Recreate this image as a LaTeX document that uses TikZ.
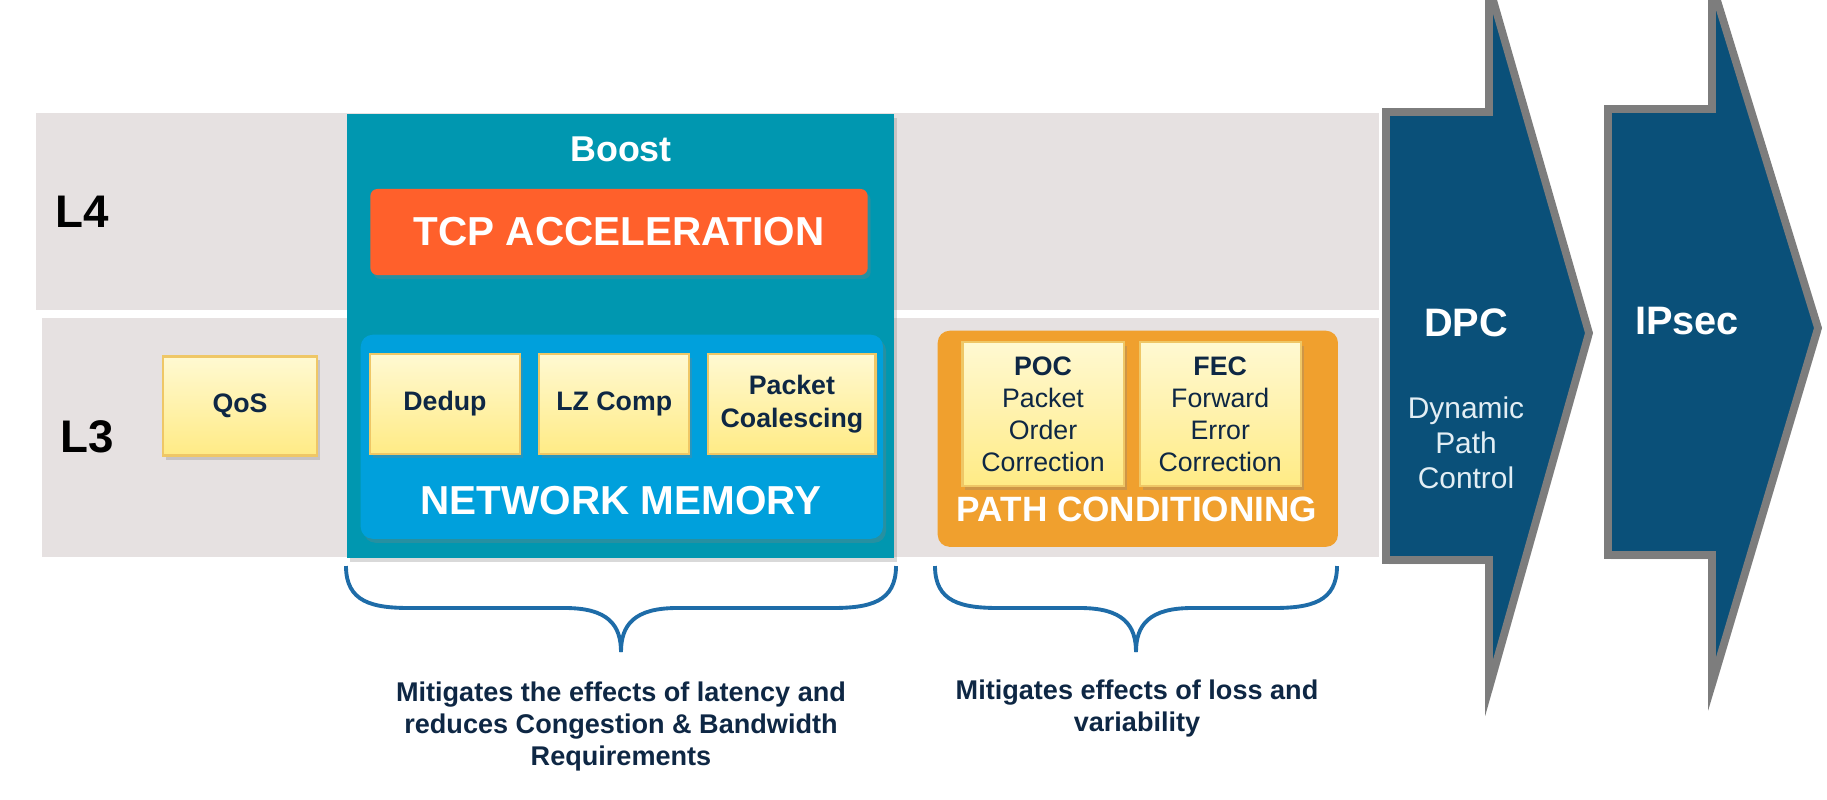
\documentclass[tikz,border=0pt]{standalone}
\usepackage{fontspec}
\setmainfont{Liberation Sans}
\usetikzlibrary{positioning, shadows}

\definecolor{bandgray}{HTML}{E6E1E1}
\definecolor{boostteal}{HTML}{0097B0}
\definecolor{tcporange}{HTML}{FF602B}
\definecolor{nmblue}{HTML}{00A0DC}
\definecolor{pcorange}{HTML}{F0A02E}
\definecolor{ytop}{HTML}{FFF9D2}
\definecolor{ybot}{HTML}{FFEB85}
\definecolor{yedge}{HTML}{EFC766}
\definecolor{navy}{HTML}{0E2744}
\definecolor{arrowblue}{HTML}{0A5079}
\definecolor{arrowedge}{HTML}{7D7D7D}
\definecolor{braceblue}{HTML}{1E6CA8}
\definecolor{dpctext}{HTML}{E3EEF4}

\begin{document}
\begin{tikzpicture}[
    x=0.01cm, y=-0.01cm,
    band/.style={fill=bandgray, anchor=north west, inner sep=0pt},
    layer/.style={font=\fontsize{13pt}{15pt}\selectfont\bfseries},
    shade/.style={drop shadow={shadow xshift=0.03cm, shadow yshift=-0.04cm, opacity=0.3}},
    ybox/.style={draw=yedge, line width=0.6pt, top color=ytop, bottom color=ybot,
        minimum width=1.5cm, minimum height=1cm, align=center, text=navy, shade,
        font=\fontsize{7.6pt}{9.5pt}\selectfont\bfseries},
    pbox/.style={ybox, minimum width=1.61cm, minimum height=1.44cm,
        font=\fontsize{7.6pt}{9.1pt}\selectfont},
    bigtitle/.style={text=white, font=\fontsize{11.5pt}{13pt}\selectfont\bfseries, inner sep=0pt},
    bigarrow/.style={fill=arrowblue, draw=arrowedge, line width=2.2pt, line join=miter, shade},
    arrowtitle/.style={text=white, font=\fontsize{11.3pt}{13pt}\selectfont\bfseries, inner sep=0pt},
    arrowsub/.style={text=dpctext, align=center, font=\fontsize{8.5pt}{10pt}\selectfont, inner sep=0pt},
    brace/.style={draw=braceblue, line width=1.1pt},
    caption/.style={text=navy, align=center, font=\fontsize{7.7pt}{9.1pt}\selectfont\bfseries, inner sep=0pt},
]
\useasboundingbox (0,0) rectangle (1827,799);

% Layer bands
\node[band, minimum width=13.43cm, minimum height=1.97cm] (l4band) at (35,112) {};
\node[band, minimum width=13.37cm, minimum height=2.39cm] (l3band) at (41,317) {};
\node[layer] (l4) at (82,212) {L4};
\node[layer] (l3) at (87,437) {L3};
\node[ybox, minimum width=1.54cm, minimum height=0.99cm] (qos) at (240,406) {QoS};

% Boost block
\node[fill=boostteal, anchor=north west, minimum width=5.47cm, minimum height=4.44cm,
    inner sep=0pt, shade] (boost) at (346,113) {};
\node[text=white, font=\fontsize{10.2pt}{12pt}\selectfont\bfseries] (boostlbl) at (621,149) {Boost};
\node[fill=tcporange, rounded corners=2pt, minimum width=4.97cm, minimum height=0.86cm,
    shade, bigtitle] (tcp) at (619,232) {TCP ACCELERATION};
\node[fill=nmblue, rounded corners=0.12cm, anchor=north west, minimum width=5.22cm,
    minimum height=2.04cm, inner sep=0pt, shade] (nm) at (360,334) {};
\node[ybox] (dedup) at (445,404) {Dedup};
\node[ybox, right=0.17cm of dedup] (lzcomp) {LZ Comp};
\node[ybox, right=0.17cm of lzcomp, minimum width=1.67cm] (coalesce) {Packet\\Coalescing};
\node[bigtitle] (nmlbl) at (621,501) {NETWORK MEMORY};

% Path conditioning block
\node[fill=pcorange, rounded corners=0.12cm, anchor=north west, minimum width=4cm,
    minimum height=2.16cm, inner sep=0pt] (pc) at (937,330) {};
\node[pbox] (poc) at (1043,414) {\textbf{POC}\\Packet\\Order\\Correction};
\node[pbox, right=0.14cm of poc] (fec) {\textbf{FEC}\\Forward\\Error\\Correction};
\node[bigtitle, font=\fontsize{10pt}{12pt}\selectfont\bfseries] (pclbl) at (1137,509) {PATH CONDITIONING};

% Arrows on the right
\draw[bigarrow] (1386,112) -- (1489,112) -- (1489,-14) -- (1589,333) -- (1489,688)
    -- (1489,560) -- (1386,560) -- cycle;
\draw[bigarrow] (1608,109) -- (1712,109) -- (1712,-16) -- (1818,328) -- (1712,684)
    -- (1712,555) -- (1608,555) -- cycle;
\node[arrowtitle] (dpc) at (1466,323) {DPC};
\node[arrowsub] (dpcsub) at (1466,443) {Dynamic\\Path\\Control};
\node[arrowtitle] (ipsec) at (1687,321) {IPsec};

% Braces and captions
\coordinate (nmtip) at (621,652);
\coordinate (pctip) at (1136,652);
\draw[brace] (346,566) .. controls (346,602) and (372,608) .. (410,608) -- (565,608)
    .. controls (608,608) and (621,625) .. (nmtip);
\draw[brace] (896,566) .. controls (896,602) and (870,608) .. (832,608) -- (677,608)
    .. controls (634,608) and (621,625) .. (nmtip);
\draw[brace] (935,566) .. controls (935,602) and (961,608) .. (999,608) -- (1080,608)
    .. controls (1123,608) and (1136,625) .. (pctip);
\draw[brace] (1337,566) .. controls (1337,602) and (1311,608) .. (1273,608) -- (1192,608)
    .. controls (1149,608) and (1136,625) .. (pctip);
\node[caption] (capnm) at (621,726) {Mitigates the effects of latency and\\reduces Congestion \& Bandwidth\\Requirements};
\node[caption] (cappc) at (1137,708) {Mitigates effects of loss and\\variability};

\end{tikzpicture}
\end{document}
